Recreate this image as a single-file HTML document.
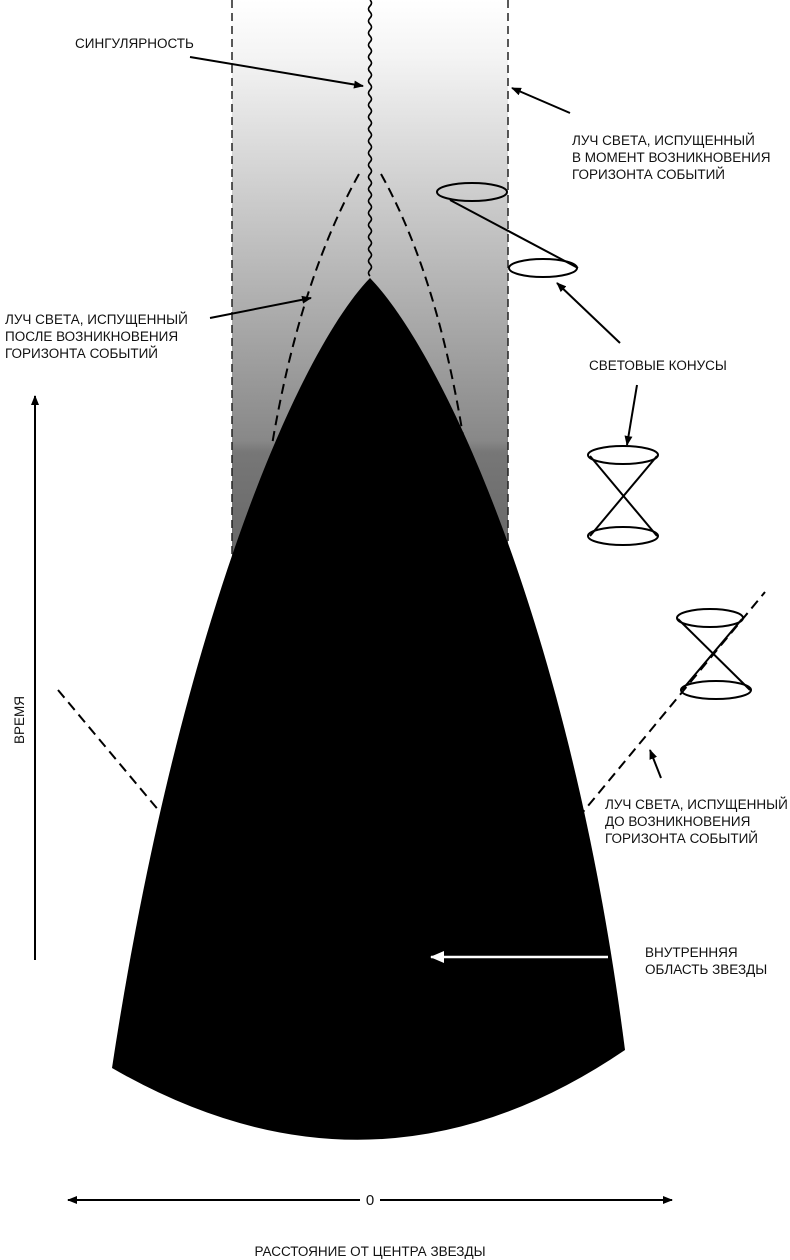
<!DOCTYPE html>
<html><head><meta charset="utf-8"><style>
html,body{margin:0;padding:0;background:#fff}
svg{display:block}
text{font-family:"Liberation Sans",Arial,sans-serif;font-size:13.5px;fill:#111}
</style></head><body>
<svg width="790" height="1260" viewBox="0 0 790 1260" xmlns="http://www.w3.org/2000/svg">
<defs>
<linearGradient id="g" x1="0" y1="0" x2="0" y2="1">
<stop offset="0" stop-color="#fff"/>
<stop offset="0.1" stop-color="#f4f4f4"/>
<stop offset="0.45" stop-color="#bcbcbc"/>
<stop offset="0.78" stop-color="#888"/>
<stop offset="0.8" stop-color="#777"/>
<stop offset="1" stop-color="#666"/>
</linearGradient>
<marker id="a" markerWidth="10" markerHeight="8" refX="9" refY="4" orient="auto" markerUnits="userSpaceOnUse"><path d="M0,0 L10,4 L0,8 Z" fill="#000"/></marker>
<marker id="w" markerWidth="14" markerHeight="12" refX="13" refY="6" orient="auto" markerUnits="userSpaceOnUse"><path d="M0,0 L14,6 L0,12 Z" fill="#fff"/></marker>
</defs>
<rect x="232" y="0" width="276" height="565" fill="url(#g)"/>
<line x1="232" y1="0" x2="232" y2="565" stroke="#222" stroke-width="1.5" stroke-dasharray="8,5"/>
<line x1="508" y1="0" x2="508" y2="565" stroke="#222" stroke-width="1.5" stroke-dasharray="8,5"/>
<path d="M370,278 C300,350 180,620 112,1068 Q375,1220 625,1050 C570,620 440,350 370,278 Z" fill="#000"/>
<path d="M370,0 q3,3 0,6 q-3,3 0,6 q3,3 0,6 q-3,3 0,6 q3,3 0,6 q-3,3 0,6 q3,3 0,6 q-3,3 0,6 q3,3 0,6 q-3,3 0,6 q3,3 0,6 q-3,3 0,6 q3,3 0,6 q-3,3 0,6 q3,3 0,6 q-3,3 0,6 q3,3 0,6 q-3,3 0,6 q3,3 0,6 q-3,3 0,6 q3,3 0,6 q-3,3 0,6 q3,3 0,6 q-3,3 0,6 q3,3 0,6 q-3,3 0,6 q3,3 0,6 q-3,3 0,6 q3,3 0,6 q-3,3 0,6 q3,3 0,6 q-3,3 0,6 q3,3 0,6 q-3,3 0,6 q3,3 0,6 q-3,3 0,6 q3,3 0,6 q-3,3 0,6 q3,3 0,6 q-3,3 0,6 q3,3 0,6 q-3,3 0,6 q3,3 0,6 q-3,3 0,6 q3,3 0,6 q-3,3 0,6" fill="none" stroke="#000" stroke-width="1.6"/>
<path d="M359,174 Q300,280 272,445" fill="none" stroke="#000" stroke-width="2" stroke-dasharray="10,6"/>
<path d="M381,174 Q440,280 466,455" fill="none" stroke="#000" stroke-width="2" stroke-dasharray="10,6"/>
<line x1="58" y1="690" x2="160" y2="812" stroke="#000" stroke-width="2" stroke-dasharray="10,6"/>
<line x1="578" y1="818" x2="765" y2="592" stroke="#000" stroke-width="2" stroke-dasharray="10,6"/>
<g fill="none" stroke="#000" stroke-width="2">
<ellipse cx="472" cy="192" rx="35" ry="9"/>
<line x1="450" y1="200" x2="578" y2="268"/>
<ellipse cx="543" cy="268" rx="34" ry="9"/>
<ellipse cx="623" cy="455" rx="35" ry="9"/>
<ellipse cx="623" cy="536" rx="35" ry="9"/>
<line x1="590" y1="456" x2="657" y2="536"/>
<line x1="657" y1="456" x2="590" y2="536"/>
<ellipse cx="710" cy="618" rx="33" ry="9"/>
<ellipse cx="716" cy="690" rx="35" ry="9"/>
<line x1="678" y1="619" x2="750" y2="690"/>
<line x1="742" y1="619" x2="682" y2="690"/>
</g>
<g stroke="#000" stroke-width="2" marker-end="url(#a)">
<line x1="190" y1="57" x2="363" y2="86"/>
<line x1="570" y1="113" x2="512" y2="88"/>
<line x1="210" y1="318" x2="311" y2="298"/>
<line x1="620" y1="343" x2="557" y2="283"/>
<line x1="637" y1="385" x2="627" y2="445"/>
<line x1="661" y1="778" x2="650" y2="750"/>
<line x1="35" y1="960" x2="35" y2="396"/>
<line x1="340" y1="1200" x2="672" y2="1200"/>
<line x1="400" y1="1200" x2="68" y2="1200"/>
</g>
<line x1="608" y1="957" x2="431" y2="957" stroke="#fff" stroke-width="2.5" marker-end="url(#w)"/>
<rect x="360" y="1188" width="20" height="22" fill="#fff"/>
<text x="370" y="1205" text-anchor="middle" style="font-size:15px">0</text>
<text x="370" y="1256" text-anchor="middle">РАССТОЯНИЕ ОТ ЦЕНТРА ЗВЕЗДЫ</text>
<text transform="translate(24,720) rotate(-90)" text-anchor="middle">ВРЕМЯ</text>
<text x="75" y="48">СИНГУЛЯРНОСТЬ</text>
<text x="572" y="145">ЛУЧ СВЕТА, ИСПУЩЕННЫЙ</text>
<text x="572" y="162">В МОМЕНТ ВОЗНИКНОВЕНИЯ</text>
<text x="572" y="179">ГОРИЗОНТА СОБЫТИЙ</text>
<text x="5" y="324">ЛУЧ СВЕТА, ИСПУЩЕННЫЙ</text>
<text x="5" y="341">ПОСЛЕ ВОЗНИКНОВЕНИЯ</text>
<text x="5" y="358">ГОРИЗОНТА СОБЫТИЙ</text>
<text x="589" y="370">СВЕТОВЫЕ КОНУСЫ</text>
<text x="605" y="809">ЛУЧ СВЕТА, ИСПУЩЕННЫЙ</text>
<text x="605" y="826">ДО ВОЗНИКНОВЕНИЯ</text>
<text x="605" y="843">ГОРИЗОНТА СОБЫТИЙ</text>
<text x="645" y="957">ВНУТРЕННЯЯ</text>
<text x="645" y="974">ОБЛАСТЬ ЗВЕЗДЫ</text>
</svg>
</body></html>
